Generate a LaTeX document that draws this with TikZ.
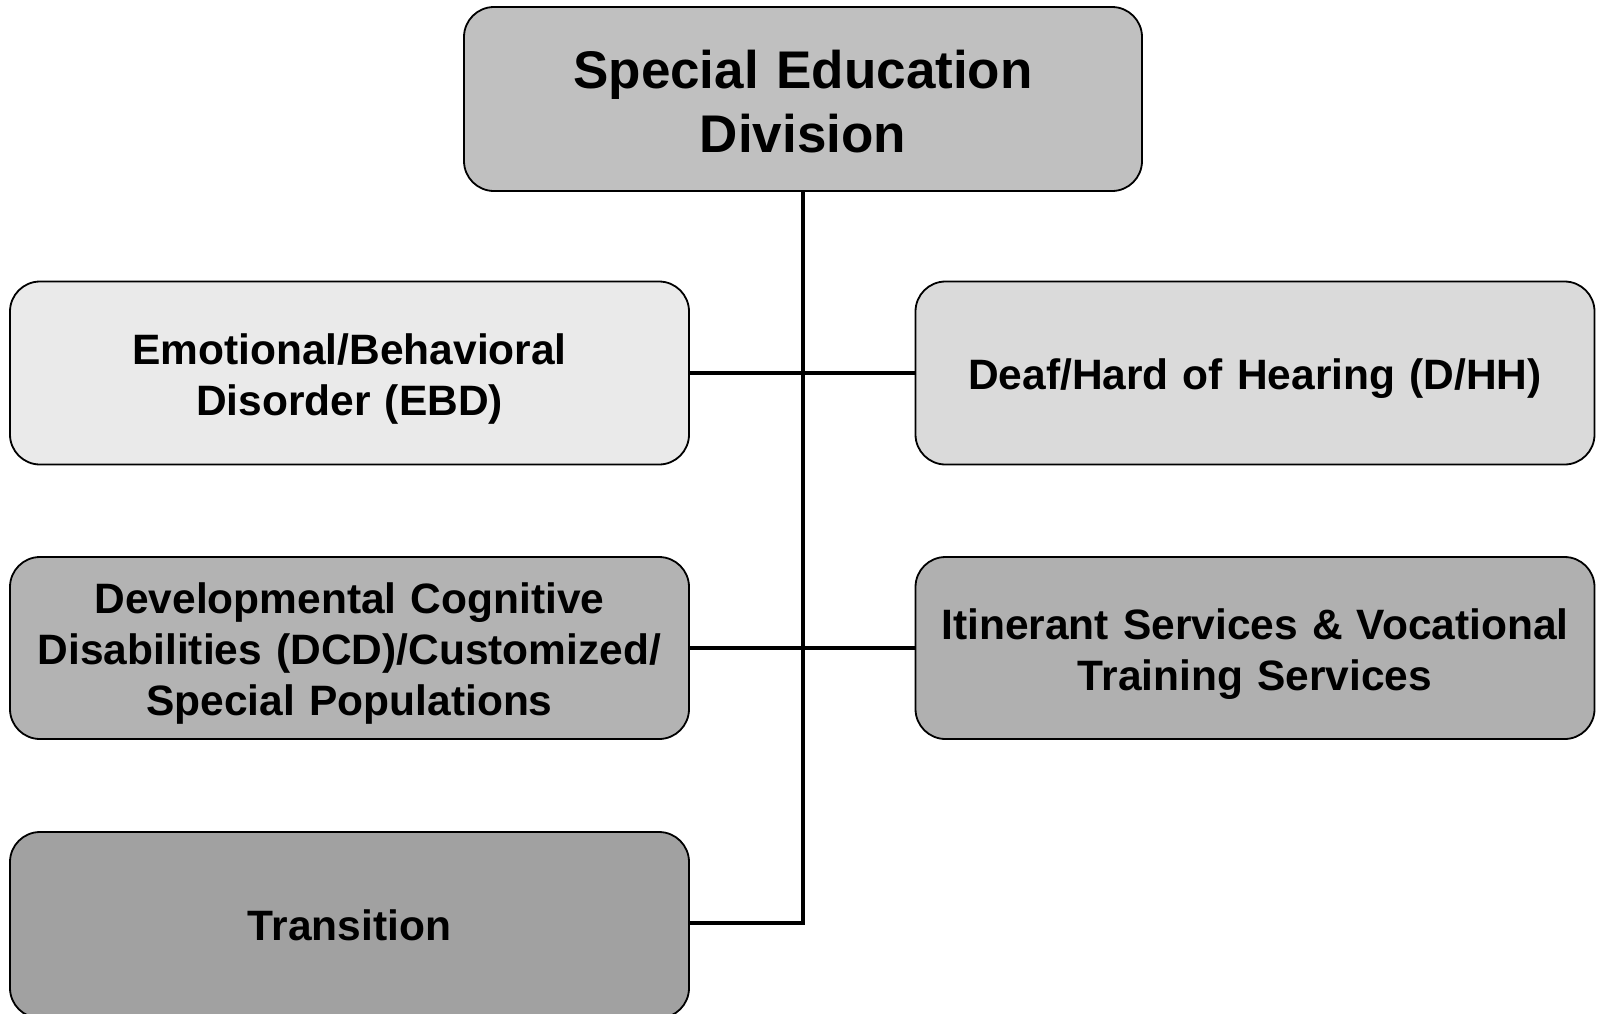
\documentclass[tikz,border=0pt]{standalone}
\usepackage{fontspec}
\setmainfont{Liberation Sans}
\definecolor{ctop}{HTML}{C0C0C0}
\definecolor{cebd}{HTML}{EAEAEA}
\definecolor{cdhh}{HTML}{DADADA}
\definecolor{cdcd}{HTML}{B3B3B3}
\definecolor{cits}{HTML}{B0B0B0}
\definecolor{ctra}{HTML}{A1A1A1}
\begin{document}
\begin{tikzpicture}[x=1pt,y=-1pt,
  box/.style={draw=black, line width=1.8pt, rounded corners=30pt, minimum width=679pt, minimum height=183pt, inner sep=0pt, align=center, text width=665pt, font=\bfseries\fontsize{42.5}{51}\selectfont},
  lower/.style={execute at begin node={\rule{0pt}{#1}}},
  conn/.style={line width=4pt, draw=black}]
\useasboundingbox (0,0) rectangle (1598,1013);
\node[box, fill=ctop, minimum width=678pt, minimum height=184pt, font=\bfseries\fontsize{53}{64}\selectfont, lower=43pt] (top) at (803,99) {Special Education\\Division};
\node[box, fill=cebd, lower=42pt] (ebd) at (349.5,373) {Emotional/Behavioral\\Disorder (EBD)};
\node[box, fill=cdhh, lower=42pt] (dhh) at (1255,373) {Deaf/Hard of Hearing (D/HH)};
\node[box, fill=cdcd, minimum height=182pt, lower=42pt] (dcd) at (349.5,648) {Developmental Cognitive\\Disabilities (DCD)/Customized/\\Special Populations};
\node[box, fill=cits, minimum height=182pt, lower=42pt] (its) at (1255,648) {Itinerant Services \& Vocational\\Training Services};
\node[box, fill=ctra, minimum height=186pt] (tra) at (349.5,925) {Transition};
\coordinate (bend) at (803,923);
\draw[conn] (ebd.east) -- (dhh.west);
\draw[conn] (dcd.east) -- (its.west);
\draw[conn] (top.south) -- (bend) -- (tra.east |- bend);
\end{tikzpicture}
\end{document}
